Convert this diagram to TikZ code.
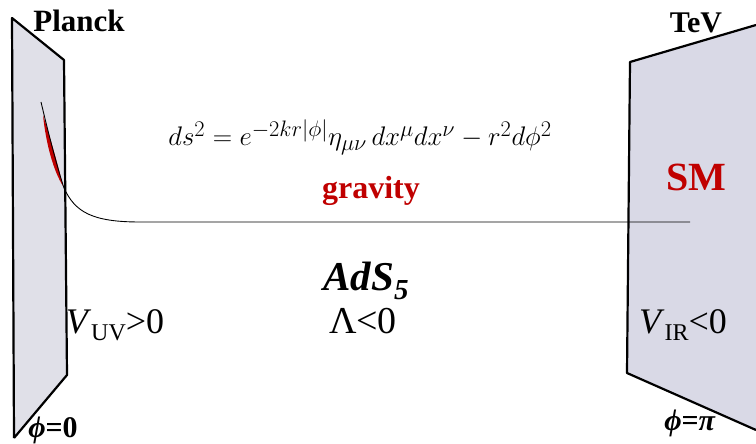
\documentclass[tikz,border=0pt]{standalone}
\usepackage{graphicx}
\usepackage{fontspec}
\setmainfont{Liberation Serif}
\begin{document}
\begin{tikzpicture}[x=1pt,y=-1pt,
  brane/.style={line width=2.2pt,line join=round},
  lbl/.style={inner sep=0pt,anchor=base},
  red/.style={text=gravred}]
\definecolor{gravred}{RGB}{192,0,0}
\definecolor{branefill}{RGB}{217,217,230}
\definecolor{branefillL}{RGB}{224,224,232}
\useasboundingbox (0,0) rectangle (756,444);
% left brane (Planck)
\fill[branefillL] (12,18) -- (64,60) -- (67,375) -- (14,438) -- cycle;
\draw[brane] (14,438) -- (12,18) -- (64,60) -- (67,375) -- (14,438);
% right brane (TeV)
\fill[branefill] (630,62) -- (756,25) -- (756,430) -- (627,373) -- cycle;
\draw[brane] (756,25) -- (630,62) -- (627,373) -- (756,430);
% warp factor curve
\fill[gravred] (43,115) .. controls (51,140) and (58,165) .. (63,186)
  .. controls (54,172) and (46,145) .. cycle;
\draw[line width=0.9pt] (41,102) .. controls (50,140) and (58,170) .. (64,188)
  .. controls (75,212) and (92,222) .. (140,222) -- (690,222);
% texts
\node[lbl,font=\bfseries\fontsize{31}{34}\selectfont] (planck) at (79,32) {Planck};
\node[lbl,font=\bfseries\fontsize{30}{34}\selectfont] (tev) at (696,33) {TeV};
\node[lbl,font=\fontsize{24.88}{30}\selectfont] (metric) at (360,146)
  {\scalebox{1.08}{$ds^2 = e^{-2kr|\phi|}\eta_{\mu\nu}\,dx^\mu dx^\nu - r^2 d\phi^2$}};
\node[lbl,red,font=\bfseries\fontsize{32}{36}\selectfont] (gravity) at (371,198) {gravity};
\node[lbl,red,font=\bfseries\fontsize{40}{44}\selectfont] (sm) at (696,190) {SM};
\node[lbl,font=\bfseries\itshape\fontsize{41}{44}\selectfont] (ads) at (366,290)
  {AdS\raisebox{-0.22em}{\fontsize{29}{31}\selectfont 5}};
\node[lbl,font=\fontsize{36}{40}\selectfont] (vuv) at (115,333)
  {\textit{V}\raisebox{-0.22em}{\fontsize{24}{26}\selectfont UV}>0};
\node[lbl,font=\fontsize{38}{42}\selectfont] (lam) at (363,333) {Λ<0};
\node[lbl,font=\fontsize{36}{40}\selectfont] (vir) at (683,333)
  {\textit{V}\raisebox{-0.22em}{\fontsize{24}{26}\selectfont IR}<0};
\node[lbl,font=\bfseries\fontsize{30}{34}\selectfont] (phi0) at (53,437) {\textit{ϕ}=0};
\node[lbl,font=\bfseries\fontsize{30}{34}\selectfont] (phipi) at (690,430) {\textit{ϕ}=\textit{π}};
\end{tikzpicture}
\end{document}
